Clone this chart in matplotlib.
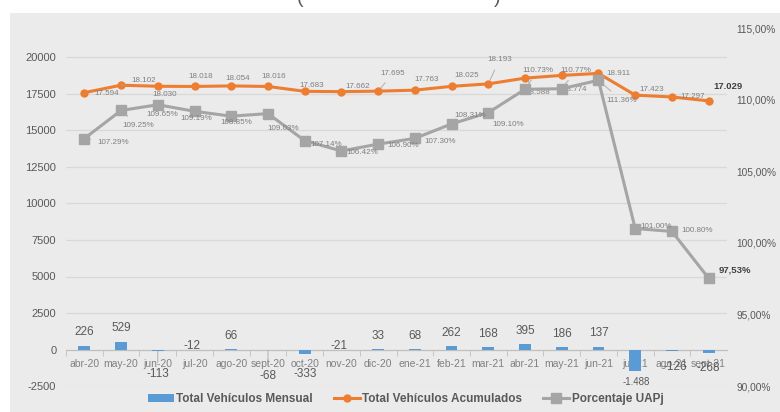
import matplotlib
matplotlib.use("Agg")
import matplotlib.pyplot as plt
from matplotlib.patches import Rectangle

plt.rcParams['font.family'] = ['Liberation Sans', 'DejaVu Sans']
plt.rcParams['axes.unicode_minus'] = False

# datos
meses = ['abr-20', 'may-20', 'jun-20', 'jul-20', 'ago-20', 'sept-20', 'oct-20', 'nov-20', 'dic-20',
         'ene-21', 'feb-21', 'mar-21', 'abr-21', 'may-21', 'jun-21', 'jul-21', 'ago-21', 'sept-21']
mensual = [226, 529, -113, -12, 66, -68, -333, -21, 33, 68, 262, 168, 395, 186, 137, -1488, -126, -268]
acumulados = [17594, 18102, 18030, 18018, 18054, 18016, 17683, 17662, 17695, 17763, 18025, 18193,
              18588, 18774, 18911, 17423, 17297, 17029]
porcentaje = [107.29, 109.25, 109.65, 109.19, 108.85, 109.03, 107.14, 106.42, 106.90, 107.30, 108.31,
              109.10, 110.73, 110.77, 111.36, 101.00, 100.80, 97.53]

# desplazamientos de etiquetas (pixeles)
off_acum = [(22, -1), (23, 5), (7, -8), (6, 10), (6, 7), (6, 10), (7, 6), (16, 5), (15, 18), (12, 11),
            (15, 11), (11, 24), (13, -14), (13, -14), (20, 0), (17, 6), (21, 0), (19, 14)]
off_pct = [(29, -4), (17, -15), (4, -10), (2, -7), (5, -6), (15, -15), (22, -4), (21, -2), (25, -1),
           (25, -3), (19, 8), (20, -12), (13, 19), (14, 18), (23, -20), (21, 2), (25, 1), (26, 8)]
off_bar = [(0, 14), (0, 14), (0, -23), (-3, 4), (0, 13), (0, -26), (0, -20), (-2, 4), (0, 13),
           (0, 13), (0, 13), (0, 13), (0, 13), (0, 13), (0, 14), (1, -11), (3, -16), (0, -15)]
leader_acum = [1, 8, 11, 12]
leader_pct = [0, 1, 9, 12, 13, 14, 17]
leader_bar = [2, 5]

azul = '#5b9bd5'
naranja = '#ed7d31'
gris = '#a5a5a5'
texto = '#595959'

fig = plt.figure(figsize=(7.8, 4.12), dpi=100)
fig.patches.append(Rectangle((10 / 780, 0), 1, 1 - 13 / 412, transform=fig.transFigure,
                             facecolor='#ebebeb', edgecolor='none', zorder=-10))
# titulo recortado
fig.text(300 / 780, 1 - 3 / 412, '(', fontsize=14, color=texto, ha='center', va='baseline')
fig.text(497 / 780, 1 - 3 / 412, ')', fontsize=14, color=texto, ha='center', va='baseline')

ax = fig.add_axes([66 / 780, 26 / 412, 661 / 780, 365 / 412])
ax.patch.set_visible(False)
x = list(range(len(meses)))

ax.bar(x, mensual, width=0.32, color=azul, zorder=3, label='Total Vehículos Mensual')
l_acum, = ax.plot(x, acumulados, color=naranja, lw=2.2, marker='o', markersize=5, zorder=4,
                  label='Total Vehículos Acumulados')

ax.set_xlim(-0.5, len(meses) - 0.5)
ax.set_ylim(-2500, 22500)
ax.set_yticks(range(-2500, 20001, 2500))
ax.yaxis.grid(True, color='#d9d9d9', lw=0.9)
ax.set_axisbelow(True)
for s in ['top', 'right', 'left']:
    ax.spines[s].set_visible(False)
ax.spines['bottom'].set_position(('data', 0))
ax.spines['bottom'].set_color('#bfbfbf')
ax.set_xticks(x)
ax.set_xticklabels(meses)
ax.set_xticks([i + 0.5 for i in x[:-1]] + [-0.5], minor=True)
ax.tick_params(axis='x', which='major', length=0, pad=7, labelsize=7.5, labelcolor='#808080')
ax.tick_params(axis='x', which='minor', length=4, color='#bfbfbf')
ax.tick_params(axis='y', length=0, pad=7, labelsize=8, labelcolor=texto)

ax2 = ax.twinx()
l_pct, = ax2.plot(x, porcentaje, color=gris, lw=2.2, marker='s', markersize=6.5, zorder=4,
                  label='Porcentaje UAPj')
ax2.set_ylim(90, 115.5)
ticks_r = [90, 95, 100, 105, 110, 115]
ax2.set_yticks(ticks_r)
ax2.set_yticklabels(['%d,00%%' % t for t in ticks_r])
ax2.tick_params(axis='y', length=0, pad=7, labelsize=7.3, labelcolor=texto)
for s in ax2.spines.values():
    s.set_visible(False)

# etiquetas de datos
for i, v in enumerate(acumulados):
    txt = '{:,}'.format(v).replace(',', '.')
    last = i == len(acumulados) - 1
    ap = dict(arrowstyle='-', color='#a6a6a6', lw=0.6, shrinkA=3, shrinkB=3) if i in leader_acum else None
    ax.annotate(txt, (i, v), xytext=off_acum[i], textcoords='offset pixels', ha='center', va='center',
                fontsize=6.8 if last else 5.8, fontweight='bold' if last else 'normal',
                color='#404040' if last else '#7f7f7f', arrowprops=ap, zorder=6)

for i, v in enumerate(porcentaje):
    last = i == len(porcentaje) - 1
    txt = ('%.2f%%' % v).replace('.', ',') if last else '%.2f%%' % v
    ap = dict(arrowstyle='-', color='#a6a6a6', lw=0.6, shrinkA=3, shrinkB=3) if i in leader_pct else None
    ax2.annotate(txt, (i, v), xytext=off_pct[i], textcoords='offset pixels', ha='center', va='center',
                 fontsize=6.8 if last else 5.8, fontweight='bold' if last else 'normal',
                 color='#404040' if last else '#7f7f7f', arrowprops=ap, zorder=6)

for i, v in enumerate(mensual):
    txt = '{:,}'.format(v).replace(',', '.')
    ap = dict(arrowstyle='-', color='#a6a6a6', lw=0.6, shrinkA=2, shrinkB=0) if i in leader_bar else None
    ax.annotate(txt, (i, v), xytext=off_bar[i], textcoords='offset pixels', ha='center', va='center',
                fontsize=7 if abs(v) >= 1000 else 8.5, color=texto, arrowprops=ap, zorder=6)

handles = [ax.containers[0], l_acum, l_pct]
labels = ['Total Vehículos Mensual', 'Total Vehículos Acumulados', 'Porcentaje UAPj']
leg = fig.legend(handles, labels, loc='center', bbox_to_anchor=(0.52, 13 / 412), ncol=3, frameon=False,
                 prop={'size': 8.5, 'weight': 'bold'}, labelcolor=texto, handlelength=2.2,
                 handletextpad=0.2, columnspacing=1.8)

fig.savefig('out.png', dpi=100)
